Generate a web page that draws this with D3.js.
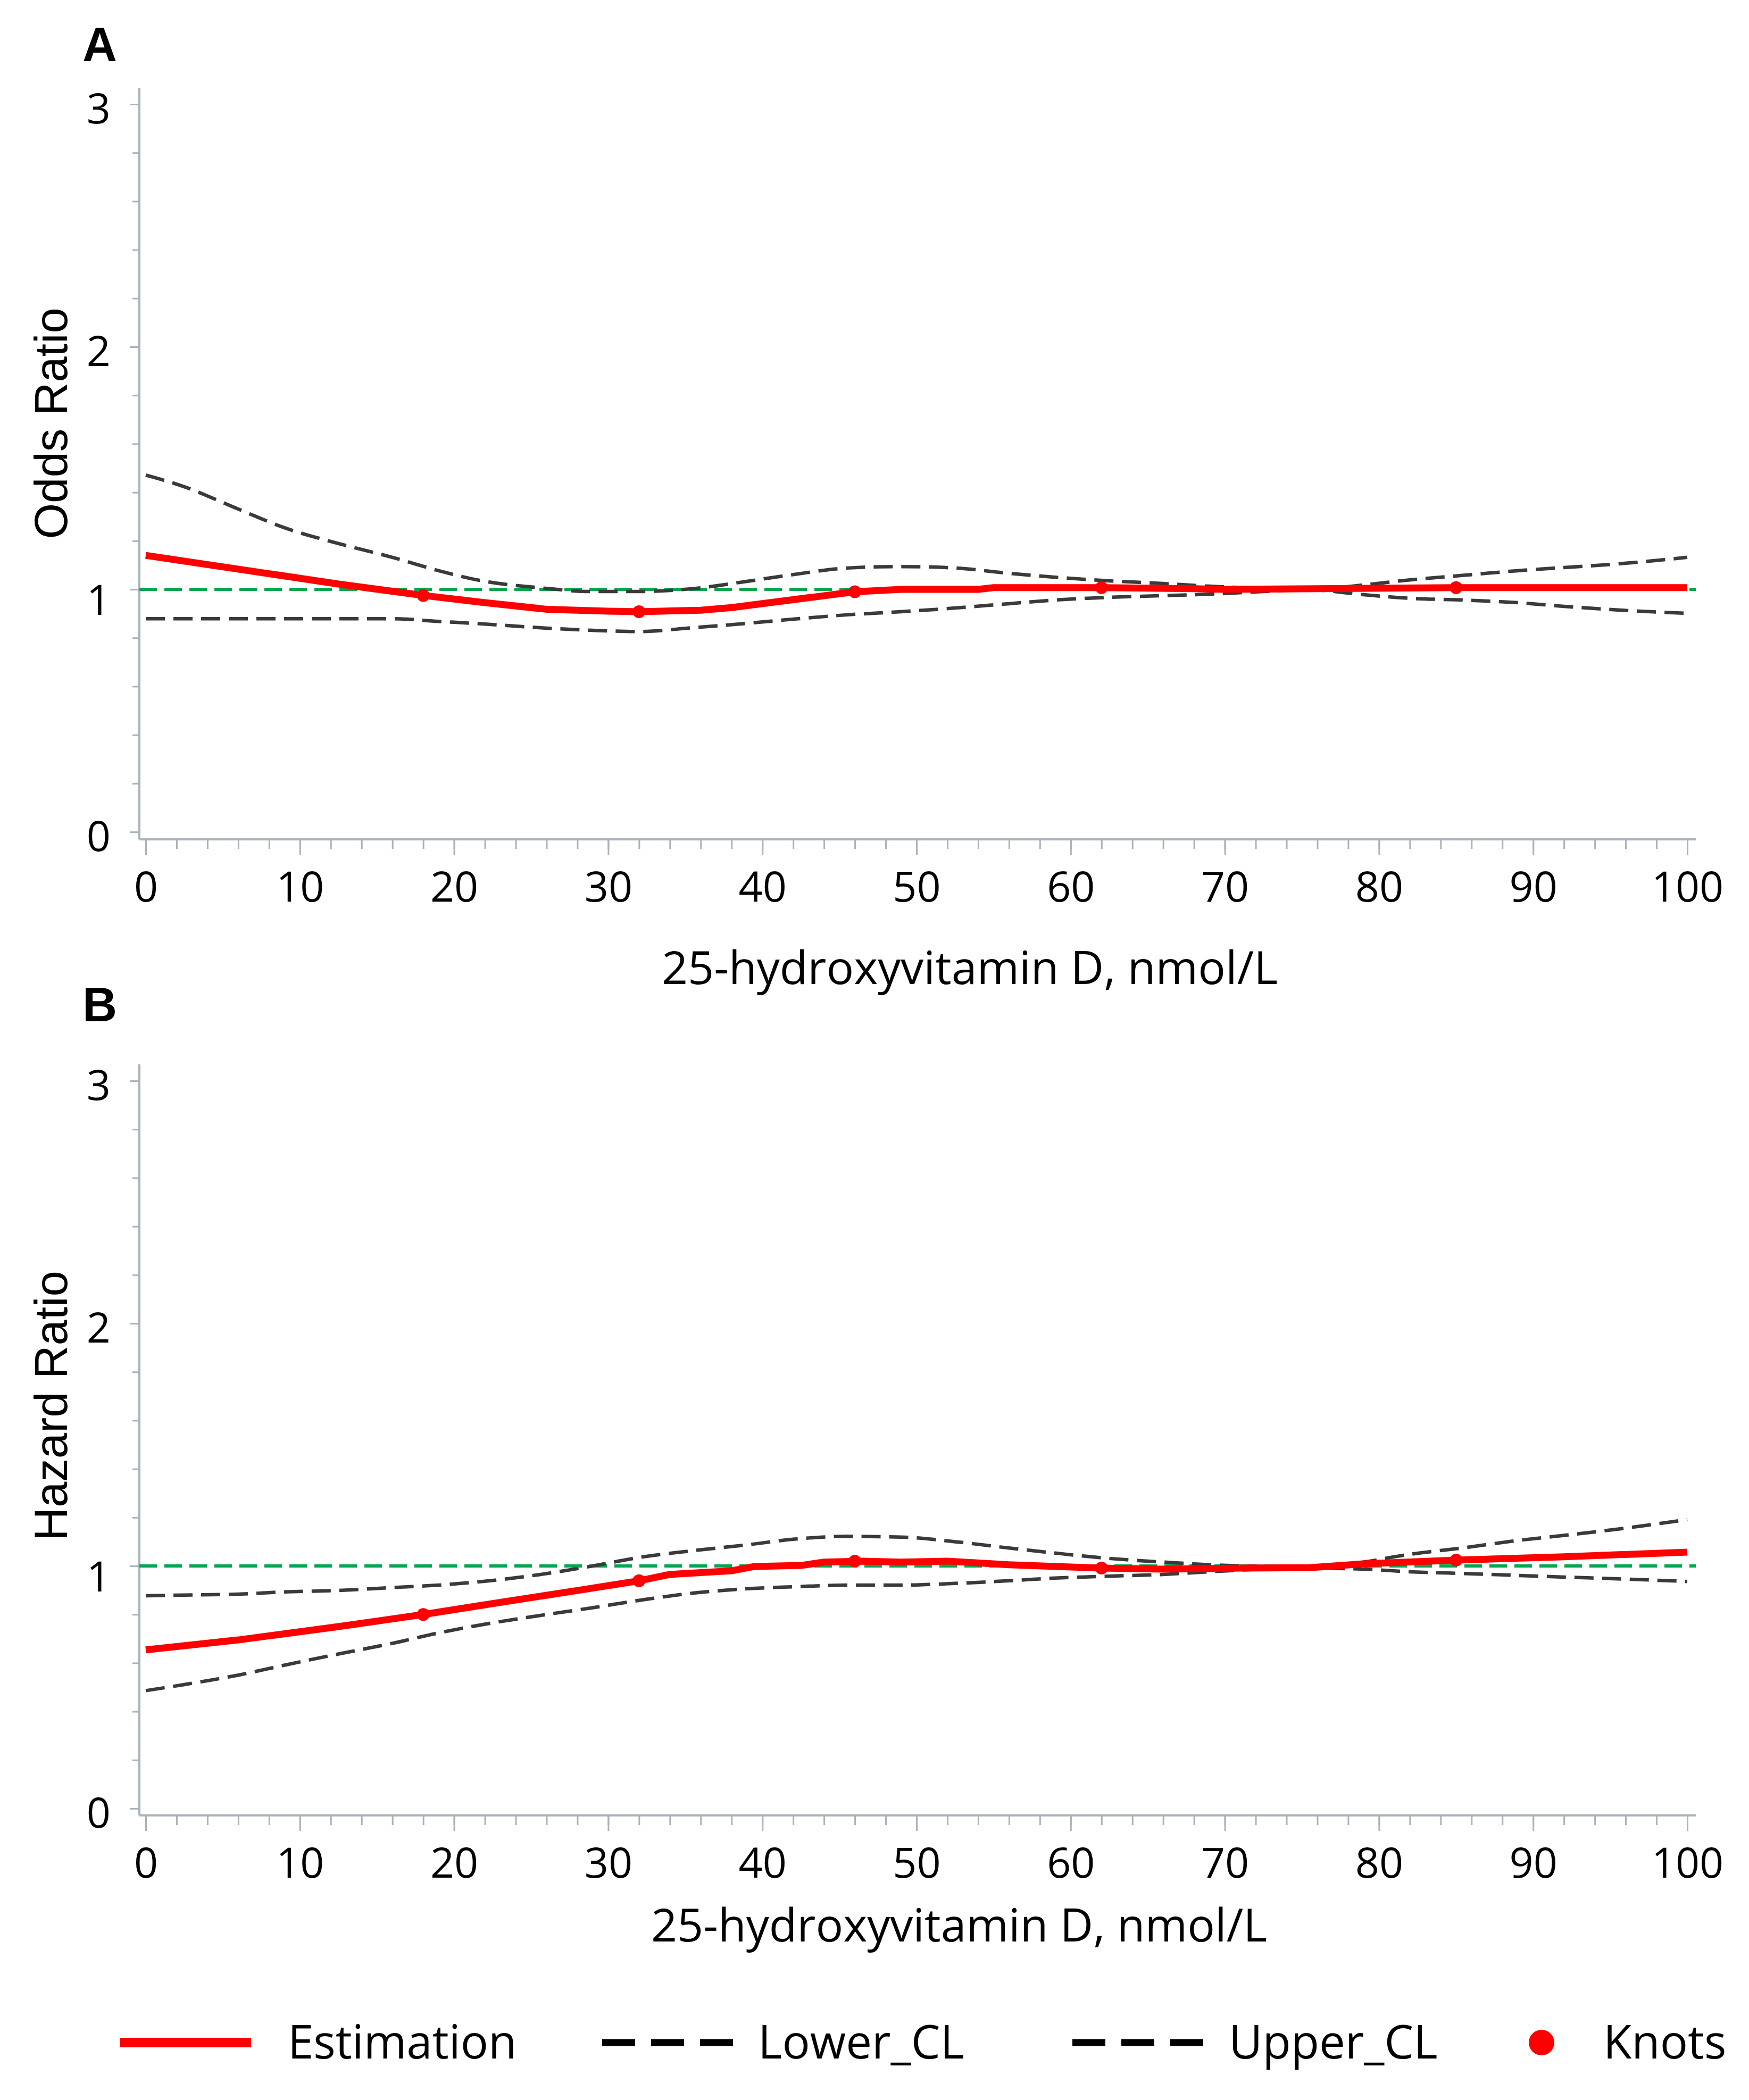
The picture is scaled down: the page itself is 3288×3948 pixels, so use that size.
<!DOCTYPE html>
<html>
<head>
<meta charset="utf-8">
<script src="https://cdn.jsdelivr.net/npm/d3@7"></script>
<style>
  body { margin: 0; background: #fff; }
  .tick text { font-family: "Open Sans", sans-serif; font-size: 79px; fill: #000; }
  .tick line { stroke: #a9b3b8; stroke-width: 3; }
</style>
</head>
<body>
<div class="container"></div>
<script>
// x positions (nmol/L) where the CL curves were read
var xGrid = [0, 2.5, 6, 9, 12.5, 16, 19, 22, 25.5, 29, 32, 35.5, 39, 42, 45.5, 49,
  52.5, 56, 59, 62.5, 66, 69, 72.5, 75.5, 79, 82, 85.5, 89, 92, 95.5, 100];

// panel A - odds ratio
var upperA = [1.471, 1.423, 1.331, 1.254, 1.189, 1.132, 1.077, 1.033, 1.007, 0.991, 0.991,
  1.003, 1.033, 1.061, 1.088, 1.094, 1.088, 1.066, 1.050, 1.035, 1.024, 1.013, 1.004, 1.0,
  1.018, 1.039, 1.058, 1.077, 1.090, 1.105, 1.132];
var lowerA = [0.879, 0.879, 0.879, 0.879, 0.879, 0.879, 0.868, 0.857, 0.842, 0.831, 0.826,
  0.842, 0.860, 0.877, 0.895, 0.908, 0.923, 0.941, 0.956, 0.967, 0.974, 0.980, 0.991, 0.998,
  0.978, 0.963, 0.956, 0.945, 0.930, 0.915, 0.901];
var estXA = [0, 12.5, 18, 22, 26, 30, 32, 36, 38, 46, 49, 54, 55, 62, 68, 70, 76, 85, 100];
var estA = [1.14, 1.022, 0.975, 0.945, 0.918, 0.91, 0.908, 0.914, 0.925, 0.99, 1.0, 1.0,
  1.007, 1.007, 1.003, 1.0, 1.003, 1.007, 1.007];

// panel B - hazard ratio
var upperB = [0.877, 0.880, 0.884, 0.893, 0.899, 0.911, 0.921, 0.937, 0.964, 1.0, 1.035,
  1.063, 1.087, 1.110, 1.122, 1.119, 1.100, 1.074, 1.053, 1.031, 1.016, 1.005, 0.998, 0.993,
  1.016, 1.048, 1.075, 1.105, 1.126, 1.152, 1.191];
var lowerB = [0.486, 0.511, 0.550, 0.591, 0.637, 0.681, 0.724, 0.760, 0.795, 0.828, 0.858,
  0.888, 0.906, 0.914, 0.921, 0.921, 0.928, 0.939, 0.950, 0.958, 0.965, 0.976, 0.987, 0.991,
  0.987, 0.976, 0.969, 0.961, 0.954, 0.947, 0.936];
var estXB = [0, 6, 12.5, 18, 22, 28, 32, 34, 38, 39.5, 42.5, 44, 46.5, 49, 52, 56, 62, 66,
  71, 75.5, 79, 85, 92, 100];
var estB = [0.654, 0.695, 0.750, 0.800, 0.840, 0.899, 0.939, 0.965, 0.980, 0.998, 1.002,
  1.016, 1.020, 1.016, 1.020, 1.005, 0.991, 0.987, 0.991, 0.993, 1.009, 1.024, 1.038, 1.057];

var knotX = [18, 32, 46, 62, 85];
var knotA = [0.975, 0.908, 0.99, 1.007, 1.007];
var knotB = [0.80, 0.939, 1.02, 0.991, 1.024];

var xTicks = d3.range(0, 101, 10);
var yTicks = [0, 1, 2, 3];
var xTitle = "25-hydroxyvitamin D, nmol/L";
var legendLabels = ["Estimation", "Lower_CL", "Upper_CL", "Knots"];

var width = 3288, height = 3948;
var red = "#ff0000", clColor = "#3a3a3a", refColor = "#00a650", axisColor = "#a9b3b8";

var svg = d3.select(".container").append("svg")
  .attr("width", width)
  .attr("height", height);
svg.append("rect").attr("width", width).attr("height", height).attr("fill", "#fff");

var panels = [
  { letter: "A", letterY: 115, top: 196, axisY: 1578, yLabel: "Odds Ratio", yLabelY: 796,
    titleX: 1823, titleY: 1850, upper: upperA, lower: lowerA, estX: estXA, est: estA, knots: knotA },
  { letter: "B", letterY: 1920, top: 2032, axisY: 3413, yLabel: "Hazard Ratio", yLabelY: 2643,
    titleX: 1803, titleY: 3650, upper: upperB, lower: lowerB, estX: estXB, est: estB, knots: knotB }
];

var x = d3.scaleLinear().domain([0, 100]).range([274, 3172]);
var yAxisX = 262;

panels.forEach(drawPanel);

function drawPanel(p) {
  var y = d3.scaleLinear().domain([0, 3]).range([p.top + 1368, p.top]);
  var g = svg.append("g");

  // panel letter
  g.append("text")
    .attr("x", 155).attr("y", p.letterY)
    .attr("font-family", "Liberation Sans, Arial, sans-serif")
    .attr("font-weight", "bold").attr("font-size", 90)
    .text(p.letter);

  // y axis: minor then major ticks
  var yg = g.append("g").attr("transform", "translate(" + yAxisX + ",0)");
  yg.append("g").call(d3.axisLeft(y).tickValues(d3.range(0, 3.01, 0.2)).tickSize(13).tickFormat(""))
    .call(function(s) { s.select(".domain").remove(); });
  yg.append("g").call(d3.axisLeft(y).tickValues(yTicks).tickSize(18).tickPadding(36).tickFormat(d3.format("d")))
    .call(function(s) {
      s.select(".domain").remove();
      s.selectAll(".tick text").attr("y", function(d) { return d == 1 ? 22 : 10; });
    });
  g.append("line")
    .attr("x1", yAxisX).attr("x2", yAxisX)
    .attr("y1", p.top - 31).attr("y2", p.axisY)
    .attr("stroke", axisColor).attr("stroke-width", 4);

  // x axis
  var xg = g.append("g").attr("transform", "translate(0," + p.axisY + ")");
  xg.append("g").call(d3.axisBottom(x).tickValues(d3.range(0, 101, 2)).tickSize(18).tickFormat(""))
    .call(function(s) { s.select(".domain").remove(); });
  xg.append("g").call(d3.axisBottom(x).tickValues(xTicks).tickSize(29).tickPadding(32))
    .call(function(s) { s.select(".domain").remove(); });
  g.append("line")
    .attr("x1", yAxisX).attr("x2", 3188)
    .attr("y1", p.axisY).attr("y2", p.axisY)
    .attr("stroke", axisColor).attr("stroke-width", 4);

  // axis titles
  g.append("text")
    .attr("transform", "translate(126," + p.yLabelY + ") rotate(-90)")
    .attr("text-anchor", "middle")
    .attr("font-family", "Liberation Sans, Arial, sans-serif")
    .attr("font-size", 87)
    .text(p.yLabel);
  g.append("text")
    .attr("x", p.titleX).attr("y", p.titleY)
    .attr("text-anchor", "middle")
    .attr("font-family", "Open Sans, sans-serif")
    .attr("font-size", 86)
    .text(xTitle);

  // reference line at 1
  g.append("line")
    .attr("x1", yAxisX).attr("x2", 3188)
    .attr("y1", y(1)).attr("y2", y(1))
    .attr("stroke", refColor).attr("stroke-width", 6)
    .attr("stroke-dasharray", "33,14");

  var clLine = d3.line()
    .x(function(d, i) { return x(xGrid[i]); })
    .y(function(d) { return y(d); })
    .curve(d3.curveMonotoneX);

  [p.lower, p.upper].forEach(function(s) {
    g.append("path")
      .attr("d", clLine(s))
      .attr("fill", "none")
      .attr("stroke", clColor)
      .attr("stroke-width", 6.5)
      .attr("stroke-dasharray", "36,16");
  });

  var estLine = d3.line()
    .x(function(d, i) { return x(p.estX[i]); })
    .y(function(d) { return y(d); });

  g.append("path")
    .attr("d", estLine(p.est))
    .attr("fill", "none")
    .attr("stroke", red)
    .attr("stroke-width", 13)
    .attr("stroke-linejoin", "round");

  g.selectAll(".knot")
    .data(p.knots).enter()
    .append("circle")
    .attr("class", "knot")
    .attr("cx", function(d, i) { return x(knotX[i]); })
    .attr("cy", function(d) { return y(d); })
    .attr("r", 12)
    .attr("fill", red);
}

// legend
var lg = svg.append("g").attr("transform", "translate(0,3840)");
var legendItems = [
  { type: "line", x: 226, tx: 541 },
  { type: "dash", x: 1132, tx: 1425 },
  { type: "dash", x: 2016, tx: 2310 },
  { type: "dot", x: 2898, tx: 3014 }
];
legendItems.forEach(function(d, i) {
  if (d.type == "line") {
    lg.append("line").attr("x1", d.x).attr("x2", d.x + 246)
      .attr("stroke", red).attr("stroke-width", 18);
  } else if (d.type == "dash") {
    lg.append("line").attr("x1", d.x).attr("x2", d.x + 246)
      .attr("stroke", "#000").attr("stroke-width", 13)
      .attr("stroke-dasharray", "62,30");
  } else {
    lg.append("circle").attr("cx", d.x).attr("r", 24).attr("fill", red);
  }
  lg.append("text")
    .attr("x", d.tx).attr("y", 30)
    .attr("font-family", "Open Sans, sans-serif")
    .attr("font-size", 87)
    .text(legendLabels[i]);
});
</script>
</body>
</html>
